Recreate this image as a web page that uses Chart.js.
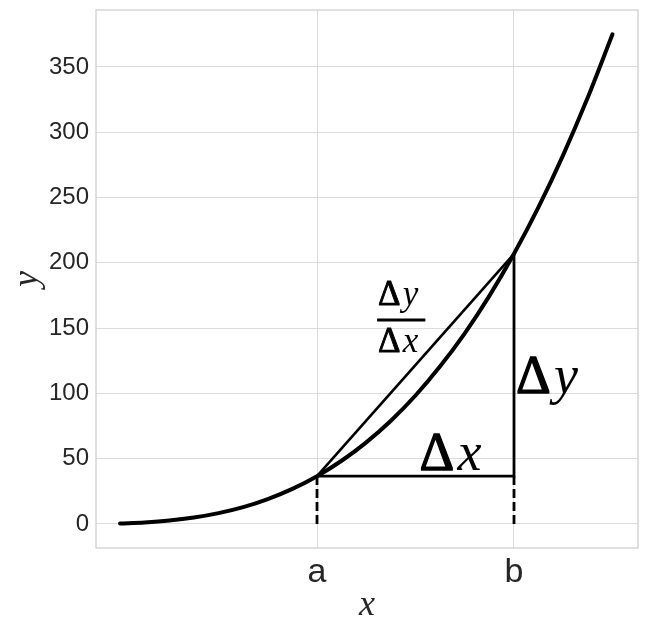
<!DOCTYPE html>
<html>
<head>
<meta charset="utf-8">
<script src="https://cdn.jsdelivr.net/npm/chart.js@4.4.1/dist/chart.umd.min.js"></script>
<style>
  html, body { margin: 0; padding: 0; background: #fff; }
  canvas { display: block; }
</style>
</head>
<body>
<canvas id="chart" width="647" height="635"></canvas>
<script>
// 곡선 데이터
const curveX = [0, 0.25, 0.5, 0.75, 1, 1.25, 1.5, 1.75, 2, 2.25, 2.5, 2.75, 3, 3.25, 3.5, 3.75, 4, 4.25, 4.5, 4.75, 5];
const curveY = [0.4, 1.2, 2.6, 4.9, 8.3, 12.9, 19.1, 26.9, 36.6, 48.4, 62.5, 79.1, 98.4, 120.7, 146.0, 174.7, 206.9, 242.8, 282.7, 326.7, 375.0];

// 구간 끝점 a, b
const pointA = { x: 2, y: 36.6 };
const pointB = { x: 4, y: 206.9 };

// 눈금
const xTicks = [2, 4];
const xTickLabels = ['a', 'b'];
const yTicks = [0, 50, 100, 150, 200, 250, 300, 350];

const INK = '#000000';
const TEXT = '#262626';
const SERIF = '"Liberation Serif", "DejaVu Serif", serif';
const SANS = '"Liberation Sans", Arial, sans-serif';

// 주석 텍스트 (Δ는 정자, 변수는 이탤릭)
function drawDelta(ctx, x, y, letter, size) {
  ctx.font = `${size}px ${SERIF}`;
  ctx.fillText('Δ', x, y);
  ctx.lineWidth = size * 0.025;
  ctx.strokeStyle = INK;
  ctx.strokeText('Δ', x, y);
  const w = ctx.measureText('Δ').width;
  ctx.font = `italic ${size}px ${SERIF}`;
  ctx.fillText(letter, x + w + size * 0.06, y);
}

const annotationPlugin = {
  id: 'annotations',
  afterDatasetsDraw(chart) {
    const { ctx, scales: { x, y } } = chart;
    ctx.save();
    ctx.fillStyle = INK;
    ctx.textBaseline = 'alphabetic';
    ctx.textAlign = 'left';

    // Δx
    drawDelta(ctx, x.getPixelForValue(3.04), y.getPixelForValue(41.3), 'x', 54);
    // Δy
    drawDelta(ctx, x.getPixelForValue(4.02), y.getPixelForValue(100.3), 'y', 54);

    // 분수 Δy / Δx
    drawDelta(ctx, x.getPixelForValue(2.62), y.getPixelForValue(167.7), 'y', 35);
    drawDelta(ctx, x.getPixelForValue(2.62), y.getPixelForValue(131.7), 'x', 35);
    ctx.strokeStyle = INK;
    ctx.lineWidth = 2.8;
    ctx.beginPath();
    ctx.moveTo(x.getPixelForValue(2.61), y.getPixelForValue(156.2));
    ctx.lineTo(x.getPixelForValue(3.10), y.getPixelForValue(156.2));
    ctx.stroke();
    ctx.restore();
  },
  afterDraw(chart) {
    // 플롯 테두리
    const { ctx, chartArea } = chart;
    ctx.save();
    ctx.strokeStyle = '#cccccc';
    ctx.lineWidth = 1.2;
    ctx.strokeRect(chartArea.left, chartArea.top, chartArea.right - chartArea.left, chartArea.bottom - chartArea.top);
    ctx.restore();
  }
};

function lineSet(points, width, dash) {
  return {
    data: points,
    borderColor: INK,
    borderWidth: width,
    borderDash: dash || [],
    pointRadius: 0,
    showLine: true,
    fill: false,
    tension: 0,
    borderCapStyle: 'butt'
  };
}

const curve = curveX.map((v, i) => ({ x: v, y: curveY[i] }));

const chart = new Chart(document.getElementById('chart').getContext('2d'), {
  type: 'scatter',
  data: {
    datasets: [
      { ...lineSet(curve, 4), borderCapStyle: 'round', cubicInterpolationMode: 'monotone' },
      lineSet([pointA, pointB], 2.6),
      lineSet([pointA, { x: pointB.x, y: pointA.y }, pointB], 2.8),
      lineSet([{ x: pointA.x, y: 0 }, pointA], 2.8, [9, 4]),
      lineSet([{ x: pointB.x, y: 0 }, { x: pointB.x, y: pointA.y }], 2.8, [9, 4])
    ]
  },
  options: {
    responsive: false,
    animation: false,
    devicePixelRatio: 1,
    layout: { padding: { left: 0, top: 10, right: 9, bottom: 0 } },
    plugins: {
      legend: { display: false },
      tooltip: { enabled: false }
    },
    scales: {
      x: {
        type: 'linear',
        min: -0.244,
        max: 5.259,
        afterBuildTicks: s => { s.ticks = xTicks.map(v => ({ value: v })); },
        afterFit: s => { s.height = 87; s.paddingLeft = 0; s.paddingRight = 0; },
        grid: { color: '#dcdcdc', lineWidth: 1, drawTicks: false },
        border: { display: false },
        ticks: {
          color: TEXT,
          font: { family: SANS, size: 34 },
          padding: 4,
          maxRotation: 0,
          callback: (v, i) => xTickLabels[i]
        },
        title: {
          display: true,
          text: 'x',
          color: TEXT,
          font: { family: SERIF, size: 36, style: 'italic' },
          padding: { top: 0, bottom: 8 }
        }
      },
      y: {
        type: 'linear',
        min: -18.4,
        max: 393.6,
        afterBuildTicks: s => { s.ticks = yTicks.map(v => ({ value: v })); },
        afterFit: s => { s.width = 96; s.paddingTop = 0; s.paddingBottom = 0; },
        grid: { color: '#dcdcdc', lineWidth: 1, drawTicks: false },
        border: { display: false },
        ticks: {
          color: TEXT,
          font: { family: SANS, size: 24 },
          padding: 7
        },
        title: {
          display: true,
          text: 'y',
          color: TEXT,
          font: { family: SERIF, size: 36, style: 'italic' },
          padding: { top: 6, bottom: 0 }
        }
      }
    }
  },
  plugins: [annotationPlugin]
});
</script>
</body>
</html>
